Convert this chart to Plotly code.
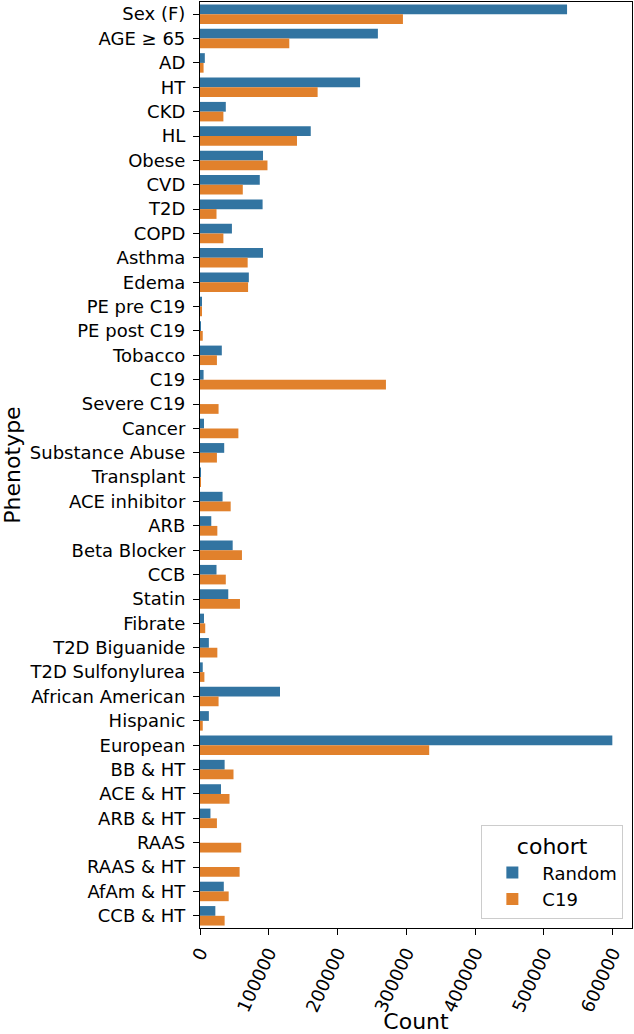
import plotly.graph_objects as go

phenotypes = ["Sex (F)", "AGE ≥ 65", "AD", "HT", "CKD", "HL", "Obese", "CVD", "T2D", "COPD",
              "Asthma", "Edema", "PE pre C19", "PE post C19", "Tobacco", "C19", "Severe C19",
              "Cancer", "Substance Abuse", "Transplant", "ACE inhibitor", "ARB", "Beta Blocker",
              "CCB", "Statin", "Fibrate", "T2D Biguanide", "T2D Sulfonylurea", "African American",
              "Hispanic", "European", "BB & HT", "ACE & HT", "ARB & HT", "RAAS", "RAAS & HT",
              "AfAm & HT", "CCB & HT"]

random_counts = [533600, 258600, 7000, 232700, 37500, 161000, 91600, 86900, 91000, 46400,
                 91600, 71000, 2300, 300, 31700, 5200, 0,
                 5800, 35200, 300, 32800, 16400, 47500,
                 24000, 41100, 5800, 12900, 4000, 116300,
                 12900, 599400, 35800, 30500, 15200, 0, 0,
                 34600, 22300]

c19_counts = [295000, 129800, 5200, 171000, 34000, 141000, 98100, 62200, 24000, 34000,
              69300, 69900, 1500, 4000, 24600, 270300, 27000,
              55800, 24600, 600, 44600, 25200, 61000,
              37500, 58100, 7600, 25200, 6400, 27000,
              4000, 333200, 48700, 42900, 24600, 59900, 57600,
              41700, 35800]

fig = go.Figure()
fig.add_trace(go.Bar(y=phenotypes, x=random_counts, orientation="h", name="Random",
                     marker=dict(color="#3274a1", line=dict(width=0))))
fig.add_trace(go.Bar(y=phenotypes, x=c19_counts, orientation="h", name="C19",
                     marker=dict(color="#e1812c", line=dict(width=0))))

axis_style = dict(showline=True, linecolor="black", linewidth=1.2, mirror=True,
                  ticks="outside", ticklen=6, tickcolor="black", showgrid=False,
                  zeroline=False, automargin=False, tickfont=dict(size=18, color="black"))

fig.update_layout(
    width=634, height=1034,
    margin=dict(l=200, r=2, t=2, b=106),
    paper_bgcolor="white", plot_bgcolor="white",
    font=dict(family="DejaVu Sans", size=18, color="black"),
    barmode="group", bargap=0.2, bargroupgap=0,
    xaxis=dict(range=[0, 628000], tickvals=[0, 100000, 200000, 300000, 400000, 500000, 600000],
               ticktext=["0", "100000", "200000", "300000", "400000", "500000", "600000"],
               tickangle=-65, title=dict(text="Count", standoff=6), **axis_style),
    yaxis=dict(autorange="reversed", title=dict(text="Phenotype", standoff=4),
               ticklabelstandoff=4, **axis_style),
    legend=dict(title=dict(text="cohort", side="top center"), x=0.98, y=0.01,
                xanchor="right", yanchor="bottom", bordercolor="#cccccc", borderwidth=1,
                bgcolor="rgba(255,255,255,0.8)", font=dict(size=18), itemwidth=50),
    showlegend=True,
)

# page body has a default 8px margin; drop it so the figure fills the window
fig.write_html("out.html", config={"displayModeBar": False},
               post_script="document.body.style.margin='0px';")
